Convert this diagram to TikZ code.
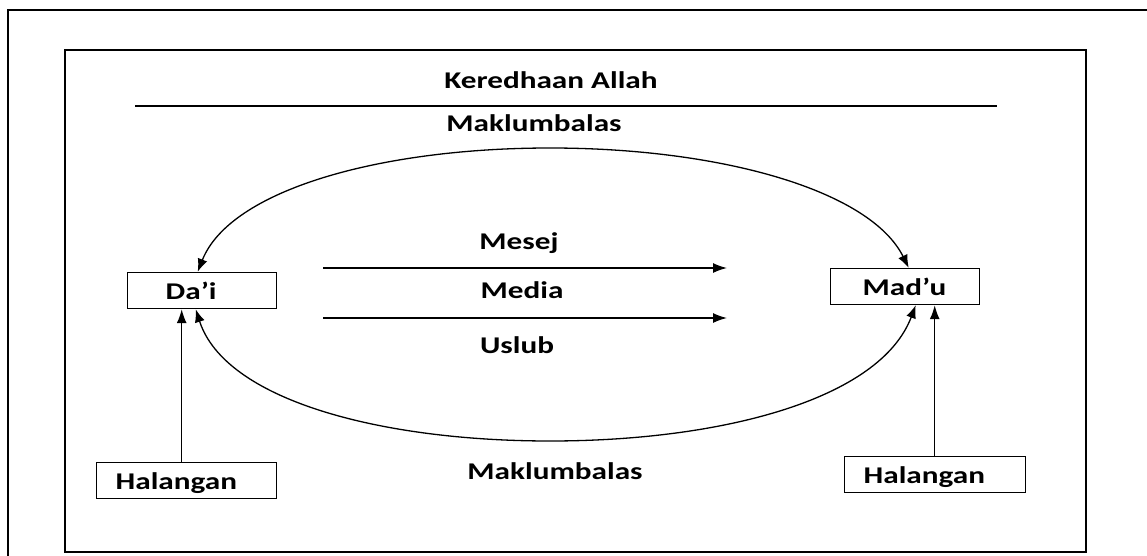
\documentclass[tikz,border=0pt]{standalone}
\usepackage{fontspec}
\setmainfont{Carlito}[FakeStretch=1.3]
\usetikzlibrary{arrows.meta}
\begin{document}
\begin{tikzpicture}[x=1pt,y=-1pt,
  txt/.style={font=\bfseries\fontsize{24}{28}\selectfont},
  lbl/.style={txt, anchor=base, inner sep=0pt},
  box/.style={txt, draw, line width=1.4pt, anchor=base west, align=left,
    inner ysep=0pt, text height=26.5pt, text depth=9.5pt},
  frame/.style={line width=1.5pt},
  arr/.style={line width=1.5pt, -{Latex[length=14pt,width=10pt]}},
  darr/.style={line width=1.3pt, {Latex[length=13pt,width=10pt]}-{Latex[length=13pt,width=10pt]}}]
\useasboundingbox (0,0) rectangle (1147,556);
\fill[white] (0,0) rectangle (1147,556);
% frames
\draw[frame] (8,556) -- (8,10) -- (1147,10);
\draw[frame] (65,50) rectangle (1086,552);
\draw[frame] (135,106) -- (997,106);
% texts
\node[lbl] (ker) at (551,89) {Keredhaan Allah};
\node[lbl] (mk1) at (534,132) {Maklumbalas};
\node[lbl] (mes) at (519,249) {Mesej};
\node[lbl] (med) at (522,298) {Media};
\node[lbl] (usl) at (517,353) {Uslub};
\node[lbl] (mk2) at (555,479) {Maklumbalas};
% boxes
\node[box, inner xsep=38pt, text width=73pt] (dai) at (127,299) {Da’i};
\node[box, inner xsep=32pt, text width=85pt] (madu) at (830,295) {Mad’u};
\node[box, inner xsep=19pt, text width=142pt] (hal1) at (96,489) {Halangan};
\node[box, inner xsep=19pt, text width=143pt] (hal2) at (844,483) {Halangan};
% horizontal arrows
\coordinate (a1s) at (323,268);
\coordinate (a1e) at (727,268);
\coordinate (a2s) at (323,318);
\coordinate (a2e) at (727,318);
\draw[arr] (a1s) -- (a1e);
\draw[arr] (a2s) -- (a2e);
% vertical arrows
\draw[arr] ([xshift=-5pt]hal1.north) -- ([xshift=-5pt]hal1.north |- dai.south);
\draw[arr] ([xshift=-0.5pt]hal2.north) -- ([xshift=-0.5pt]hal2.north |- madu.south);
% feedback arcs
\draw[darr] ([xshift=-4.5pt]dai.north) .. controls (230,190) and (380,148) .. (550,148)
  .. controls (720,148) and (870,190) .. ([xshift=3.5pt]madu.north);
\draw[darr] ([xshift=-6.5pt]dai.south) .. controls (225,400) and (380,441) .. (550,441)
  .. controls (720,441) and (880,400) .. ([xshift=10.5pt]madu.south);
\end{tikzpicture}
\end{document}
